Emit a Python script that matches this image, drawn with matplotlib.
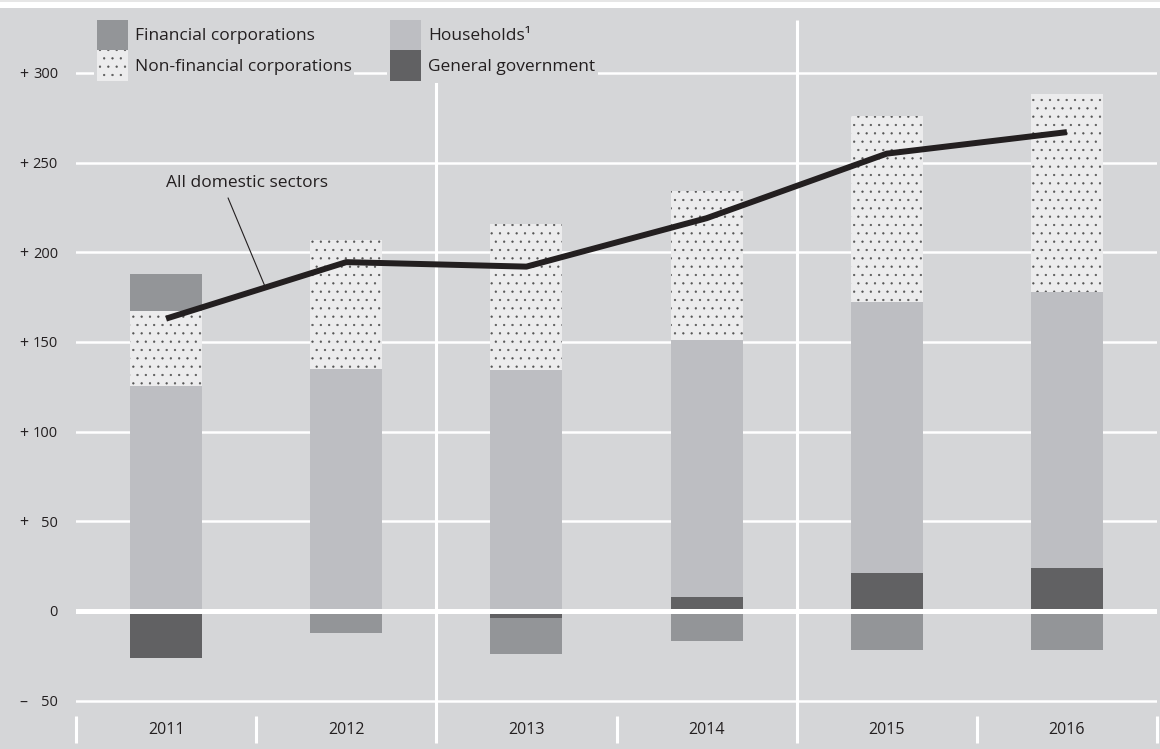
import matplotlib
matplotlib.use("Agg")
import matplotlib.pyplot as plt
import matplotlib.transforms as mtransforms
from matplotlib.patches import Patch, Rectangle
import numpy as np

plt.rcParams['font.family'] = ['Open Sans', 'DejaVu Sans']
plt.rcParams['hatch.linewidth'] = 0.4

# data
years = ['2011', '2012', '2013', '2014', '2015', '2016']
general_gov = [-26, 0, -4, 8, 21, 24]
households = [125.4, 135, 134.5, 143, 151, 154]
non_financial = [41.6, 72, 81, 83, 104, 110]
financial = [21, -12, -20, -17, -22, -22]
all_sectors = [163, 194.5, 192, 219, 255, 267]

yticks = [300, 250, 200, 150, 100, 50, 0, -50]
ytick_labels = ['300', '250', '200', '150', '100', '50', '0', '50']

bg = '#d5d6d8'
txt = '#231f20'
c_fin = '#939598'
c_hh = '#bdbec2'
c_nfc = '#ececed'
c_gg = '#616163'
c_dot = '#555555'

fig = plt.figure(figsize=(11.6, 7.49), dpi=100, facecolor=bg)
ax = fig.add_axes([76 / 1160, 0, (1157 - 76) / 1160, 1 - 8 / 749])
ax.set_facecolor(bg)
for s in ax.spines.values():
    s.set_visible(False)

# white strip on top
fig.patches.append(Rectangle((0, 1 - 8 / 749), 1, 8 / 749, transform=fig.transFigure,
                             facecolor='white', edgecolor='none', zorder=0))
fig.patches.append(Rectangle((0, 1 - 2 / 749), 1, 2 / 749, transform=fig.transFigure,
                             facecolor='#e6e6e6', edgecolor='none', zorder=0))

x = np.arange(len(years))
w = 0.4
pos = np.zeros(len(years))
neg = np.zeros(len(years))
series = [(general_gov, c_gg, None), (households, c_hh, None),
          (non_financial, c_nfc, '..'), (financial, c_fin, None)]
for vals, col, hatch in series:
    vals = np.array(vals, dtype=float)
    base = np.where(vals >= 0, pos, neg)
    if hatch:
        ax.bar(x, vals, w, bottom=base, color=col, edgecolor=c_dot,
               hatch=hatch, linewidth=0, zorder=2)
    else:
        ax.bar(x, vals, w, bottom=base, color=col, linewidth=0, zorder=2)
    pos = np.where(vals >= 0, pos + vals, pos)
    neg = np.where(vals < 0, neg + vals, neg)

ax.plot(x, all_sectors, color=txt, lw=4.3, zorder=4, solid_capstyle='butt')

# grid
for t in yticks:
    ax.axhline(t, color='white', lw=3.6 if t == 0 else 1.8, zorder=3 if t == 0 else 0.5)

ax.set_xlim(-0.5, 5.5)
ax.set_ylim(-76.95, 336.2)

# vertical separators
ax.vlines([1.5, 3.5], -73.6, 329.6, color='white', lw=2.2, zorder=1)
ax.vlines([-0.5, 0.5, 2.5, 4.5, 5.5], -73.6, -58.5, color='white', lw=2.2,
          zorder=1, clip_on=False)

for i, yr in enumerate(years):
    ax.text(i, -66.4, yr, ha='center', va='center', fontsize=11.5, color=txt)

ax.set_xticks([])
ax.set_yticks(yticks)
ax.set_yticklabels(ytick_labels, fontsize=10.5, color=txt)
ax.tick_params(axis='y', length=0, pad=13)

trans = mtransforms.blended_transform_factory(fig.transFigure, ax.transData)
for t in yticks:
    if t > 0:
        ax.text(19 / 1160, t, '+', transform=trans, ha='left', va='center_baseline',
                fontsize=11.5, color=txt)
    elif t < 0:
        ax.text(19 / 1160, t, '\u2013', transform=trans, ha='left', va='center_baseline',
                fontsize=11.5, color=txt)

# annotation
ax.text(0.45, 238.7, 'All domestic sectors', ha='center', va='center', fontsize=12.5,
        color=txt, zorder=5)
ax.annotate('', xy=(0.55, 180.7), xytext=(0.344, 230.3),
            arrowprops=dict(arrowstyle='-', color=txt, lw=0.8, shrinkA=0, shrinkB=0), zorder=5)

# legends
leg_kw = dict(fontsize=12.5, frameon=True, facecolor=bg, edgecolor='none', framealpha=1,
              fancybox=False, borderpad=0.15, labelspacing=0, handlelength=1.78,
              handleheight=2.33, handletextpad=0.42, borderaxespad=0,
              labelcolor=txt)
h1 = [Patch(facecolor=c_fin, linewidth=0),
      Patch(facecolor=c_nfc, edgecolor=c_dot, hatch='..', linewidth=0)]
leg1 = ax.legend(h1, ['Financial corporations', 'Non-financial corporations'],
                 loc='upper left', bbox_to_anchor=(94 / 1160, 1 - 17 / 749),
                 bbox_transform=fig.transFigure, **leg_kw)
leg1.set_zorder(6)
ax.add_artist(leg1)
h2 = [Patch(facecolor=c_hh, linewidth=0), Patch(facecolor=c_gg, linewidth=0)]
leg2 = ax.legend(h2, ['Households\u00b9', 'General government'],
                 loc='upper left', bbox_to_anchor=(387 / 1160, 1 - 17 / 749),
                 bbox_transform=fig.transFigure, **leg_kw)
leg2.set_zorder(6)

fig.savefig('out.png', dpi=100, facecolor=bg)
